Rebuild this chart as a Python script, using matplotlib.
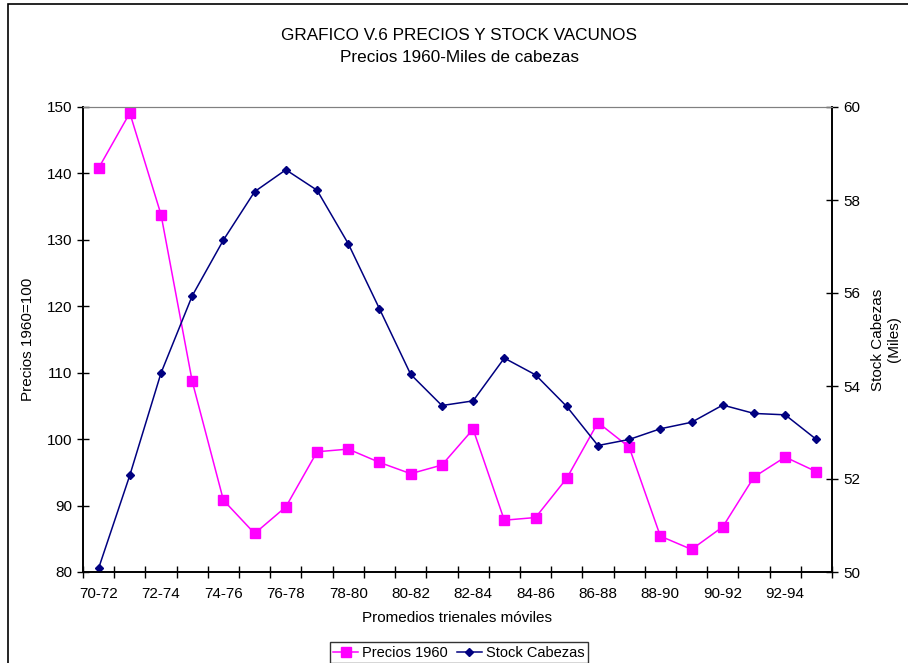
import numpy as np
import matplotlib
matplotlib.use("Agg")
import matplotlib.pyplot as plt
from matplotlib.patches import Rectangle

plt.rcParams['font.family'] = ['Liberation Sans', 'DejaVu Sans']

# periodos (promedios trienales moviles)
periodos = ["70-72", "71-73", "72-74", "73-75", "74-76", "75-77", "76-78", "77-79",
            "78-80", "79-81", "80-82", "81-83", "82-84", "83-85", "84-86", "85-87",
            "86-88", "87-89", "88-90", "89-91", "90-92", "91-93", "92-94", "93-95"]
# precios 1960=100
precios = [140.8, 149.1, 133.8, 108.7, 90.8, 85.8, 89.8, 98.1, 98.5, 96.5, 94.8, 96.1,
           101.5, 87.8, 88.2, 94.1, 102.5, 98.8, 85.4, 83.4, 86.8, 94.3, 97.3, 95.1]
# stock cabezas (miles)
stock = [50.08, 52.08, 54.28, 55.94, 57.14, 58.18, 58.65, 58.21, 57.06, 55.66, 54.25, 53.58,
         53.68, 54.60, 54.24, 53.56, 52.72, 52.85, 53.08, 53.22, 53.59, 53.41, 53.38, 52.85]

x = np.arange(len(periodos))

fig = plt.figure(figsize=(9.08, 6.63), dpi=100)
ax = fig.add_axes([83/908, 1-572/663, (832-83)/908, (572-107)/663])
ax2 = ax.twinx()

l1, = ax.plot(x, precios, color='#FF00FF', lw=1.1, marker='s', ms=7, label='Precios 1960')
l2, = ax2.plot(x, stock, color='#000080', lw=1.1, marker='D', ms=4.5, label='Stock Cabezas')

ax.set_xlim(-0.5, len(periodos)-0.5)
ax.set_ylim(80, 150)
ax2.set_ylim(50, 60)
ax.set_yticks(np.arange(80, 151, 10))
ax2.set_yticks(np.arange(50, 61, 2))

# ticks entre categorias, etiquetas cada dos
ax.set_xticks(np.arange(-0.5, len(periodos), 1.0))
ax.set_xticklabels([])
ax.set_xticks(x[::2], minor=True)
ax.set_xticklabels(periodos[::2], minor=True)
ax.tick_params(axis='x', which='major', direction='inout', length=8, width=1)
ax.tick_params(axis='x', which='minor', length=0, pad=11, labelsize=11)
ax.tick_params(axis='y', direction='inout', length=8, width=1, labelsize=11, pad=4)
ax2.tick_params(axis='y', direction='inout', length=8, width=1, labelsize=11, pad=4)

for a in (ax, ax2):
    a.spines['top'].set_color('#808080')
    a.spines['top'].set_linewidth(0.8)
    a.spines['left'].set_linewidth(1.2)
    a.spines['right'].set_linewidth(1.2)
    a.spines['bottom'].set_linewidth(1.2)

ax.set_xlabel("Promedios trienales móviles", fontsize=11, labelpad=7)
ax.set_ylabel("Precios 1960=100", fontsize=11, labelpad=8)
ax2.set_ylabel("Stock Cabezas\n(Miles)", fontsize=11, rotation=90, labelpad=8)

fig.text(459/908, 1-35/663, "GRAFICO V.6 PRECIOS Y STOCK VACUNOS", ha='center', va='center', fontsize=12.3)
fig.text(459/908, 1-57/663, "Precios 1960-Miles de cabezas", ha='center', va='center', fontsize=12.3)

leg = fig.legend(handles=[l1, l2], loc='upper center', bbox_to_anchor=(459/908, 1-642/663),
                 ncol=2, frameon=True, fancybox=False, edgecolor='black', fontsize=10.5,
                 handlelength=1.7, columnspacing=0.6, handletextpad=0.3, borderpad=0.25,
                 borderaxespad=0)
leg.get_frame().set_linewidth(1)

# borde del grafico
fig.patches.append(Rectangle((8/908, -0.2), 1.2, 1.2 + (1-4/663) - 1.0, transform=fig.transFigure,
                             fill=False, edgecolor='black', lw=1.2, zorder=0))

fig.savefig("out.png", dpi=100)
